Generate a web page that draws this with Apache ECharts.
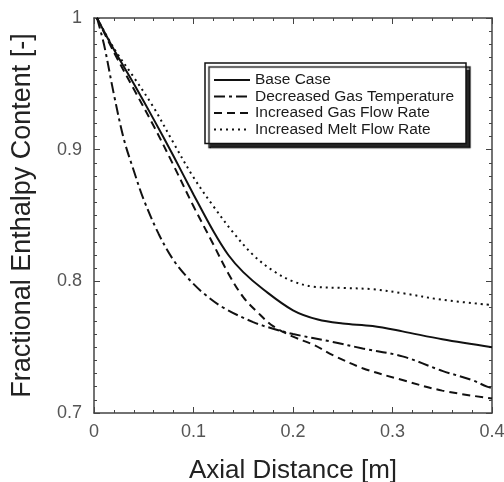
<!DOCTYPE html>
<html>
<head>
<meta charset="utf-8">
<script src="https://cdn.jsdelivr.net/npm/echarts@6/dist/echarts.min.js"></script>
<style>
  html, body { margin: 0; padding: 0; background: #fff; }
  #chart { width: 504px; height: 482px; }
</style>
</head>
<body>
<div id="chart"></div>
<script>
// values: [axial distance (m), fractional enthalpy]
const seriesNames = [
  "Base Case",
  "Decreased Gas Temperature",
  "Increased Gas Flow Rate",
  "Increased Melt Flow Rate"
];

const baseCase = [
  [0.003, 1.0], [0.02, 0.976], [0.04, 0.950], [0.06, 0.923], [0.08, 0.895],
  [0.1, 0.866], [0.12, 0.838], [0.135, 0.820], [0.15, 0.807], [0.17, 0.794],
  [0.2, 0.778], [0.225, 0.771], [0.25, 0.768], [0.28, 0.766], [0.31, 0.762],
  [0.35, 0.756], [0.4, 0.750]
];

const decreasedGasTemp = [
  [0.003, 1.0], [0.01, 0.980], [0.02, 0.942], [0.03, 0.908], [0.04, 0.884],
  [0.05, 0.862], [0.065, 0.836], [0.08, 0.816], [0.095, 0.802], [0.11, 0.791],
  [0.13, 0.780], [0.16, 0.769], [0.18, 0.764], [0.2, 0.760], [0.24, 0.754],
  [0.27, 0.749], [0.31, 0.743], [0.35, 0.732], [0.38, 0.725], [0.395, 0.720],
  [0.4, 0.719]
];

const increasedGasFlow = [
  [0.003, 1.0], [0.02, 0.974], [0.04, 0.946], [0.06, 0.918], [0.08, 0.888],
  [0.1, 0.857], [0.12, 0.828], [0.135, 0.806], [0.15, 0.788], [0.165, 0.776],
  [0.18, 0.766], [0.2, 0.758], [0.22, 0.752], [0.24, 0.744], [0.27, 0.734],
  [0.31, 0.725], [0.35, 0.717], [0.4, 0.711]
];

const increasedMeltFlow = [
  [0.003, 1.0], [0.02, 0.977], [0.04, 0.955], [0.06, 0.932], [0.08, 0.905],
  [0.1, 0.879], [0.12, 0.857], [0.14, 0.837], [0.16, 0.820], [0.18, 0.808],
  [0.2, 0.800], [0.22, 0.796], [0.25, 0.795], [0.28, 0.794], [0.31, 0.791],
  [0.35, 0.786], [0.4, 0.782]
];

const lineTypes = ["solid", [11, 4, 3, 4], [8, 5], [2, 4]];
const seriesData = [baseCase, decreasedGasTemp, increasedGasFlow, increasedMeltFlow];

const chart = echarts.init(document.getElementById("chart"), null, { renderer: "canvas" });

const fontFamily = "'Liberation Sans', Arial, sans-serif";
const axisColor = "#444";
const fmt = (v) => String(+v.toFixed(2));

function frameAxis(extra) {
  return Object.assign({
    type: "value",
    axisLine: { show: true, onZero: false, lineStyle: { color: axisColor, width: 1.5 } },
    axisTick: { show: true, inside: true, length: 6, lineStyle: { color: axisColor } },
    splitLine: { show: false }
  }, extra);
}

const option = {
  animation: false,
  backgroundColor: "#fff",
  grid: { left: 94, right: 12, top: 18, bottom: 69, containLabel: false, outerBoundsMode: "none" },
  legend: {
    orient: "vertical",
    left: 205,
    top: 63,
    padding: [9, 12, 6, 8],
    itemGap: 0.5,
    itemWidth: 36,
    itemHeight: 13,
    itemStyle: { opacity: 0 },
    backgroundColor: "#fff",
    borderColor: "#111",
    borderWidth: 1.5,
    borderRadius: 0,
    shadowColor: "rgba(0,0,0,0.85)",
    shadowBlur: 1,
    shadowOffsetX: 4,
    shadowOffsetY: 4,
    textStyle: { fontFamily: fontFamily, fontSize: 15.5, color: "#1a1a1a" },
    data: seriesNames
  },
  xAxis: [
    frameAxis({
      min: 0, max: 0.4, interval: 0.1, position: "bottom",
      name: "Axial Distance [m]",
      nameLocation: "middle",
      nameGap: 45,
      nameTextStyle: { fontFamily: fontFamily, fontSize: 26, color: "#222" },
      minorTick: { show: true, splitNumber: 5, length: 3, lineStyle: { color: axisColor } },
      axisLabel: { formatter: fmt, fontFamily: fontFamily, fontSize: 18, color: "#555", margin: 10 }
    }),
    frameAxis({
      min: 0, max: 0.4, interval: 0.1, position: "top",
      minorTick: { show: true, splitNumber: 5, length: 3, lineStyle: { color: axisColor } },
      axisLabel: { show: false }
    })
  ],
  yAxis: [
    frameAxis({
      min: 0.7, max: 1, interval: 0.1, position: "left",
      name: "Fractional Enthalpy Content [-]",
      nameLocation: "middle",
      nameGap: 58,
      nameTextStyle: { fontFamily: fontFamily, fontSize: 27, color: "#222" },
      minorTick: { show: true, splitNumber: 10, length: 3, lineStyle: { color: axisColor } },
      axisLabel: { formatter: fmt, fontFamily: fontFamily, fontSize: 18, color: "#555", margin: 12 }
    }),
    frameAxis({
      min: 0.7, max: 1, interval: 0.1, position: "right",
      minorTick: { show: true, splitNumber: 10, length: 3, lineStyle: { color: axisColor } },
      axisLabel: { show: false }
    })
  ],
  series: seriesNames.map((name, i) => ({
    name: name,
    type: "line",
    xAxisIndex: 0,
    yAxisIndex: 0,
    data: seriesData[i],
    smooth: 0.35,
    symbol: "none",
    lineStyle: { color: "#111", width: 2, type: lineTypes[i] },
    itemStyle: { color: "#111" },
    emphasis: { disabled: true }
  }))
};

chart.setOption(option);
</script>
</body>
</html>
